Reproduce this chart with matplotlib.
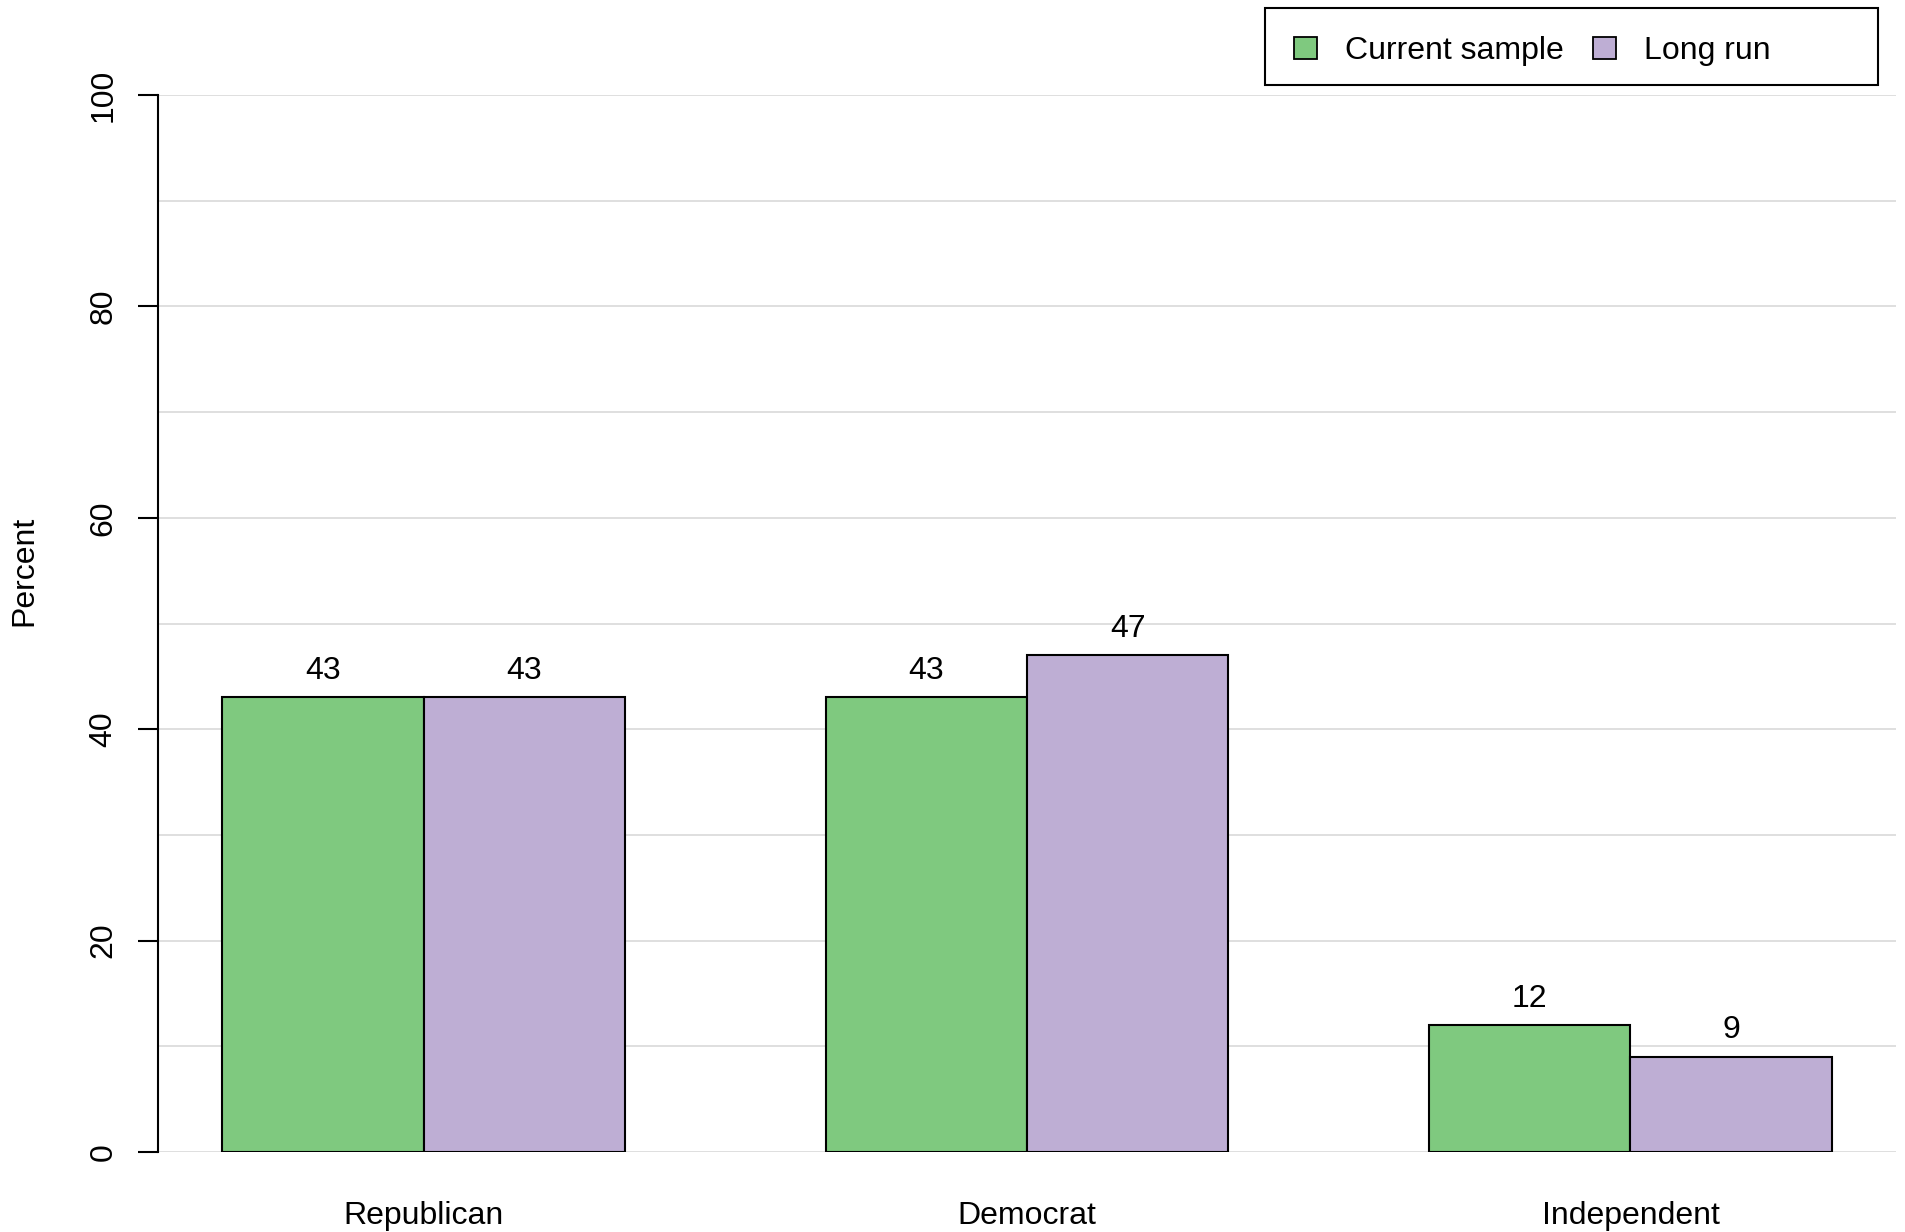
import numpy as np
import matplotlib.pyplot as plt
from matplotlib.patches import Rectangle

categories = ["Republican", "Democrat", "Independent"]
current_sample = [43, 43, 12]
long_run = [43, 47, 9]
series_names = ["Current sample", "Long run"]
colors = ["#7FC97F", "#BEAED4"]

plt.rcParams['font.family'] = ['Liberation Sans', 'DejaVu Sans']
FS = 23

W, H = 1905, 1232
fig = plt.figure(figsize=(W / 100, H / 100), dpi=100)

# axes box in pixels: x 158..1896, y 95..1152
ax = fig.add_axes([158 / W, 1 - 1152 / H, (1896 - 158) / W, (1152 - 95) / H])

# R style beside barplot: width 1, space c(0, 1)
n = len(categories)
group_left = 1 + 3 * np.arange(n)
for j, (vals, col) in enumerate(zip([current_sample, long_run], colors)):
    x = group_left + j
    ax.bar(x, vals, width=1, align='edge', color=col, edgecolor='black',
           linewidth=1.5, zorder=3)
    for xi, v in zip(x, vals):
        ax.annotate(str(v), (xi + 0.5, v), xytext=(0, 19), textcoords='offset points',
                    ha='center', va='center', fontsize=FS, zorder=4)

for g in range(0, 101, 10):
    ax.axhline(g, color='#D9D9D9', linewidth=1.2, zorder=1)

ax.set_xlim(0.68, 9.32)
ax.set_ylim(0, 100)

ax.set_yticks(range(0, 101, 20))
ax.tick_params(axis='y', length=14.4, width=1.5, pad=14, labelsize=FS, labelrotation=90)
for lab in ax.get_yticklabels():
    lab.set_va('center')

ax.set_xticks(group_left + 1)
ax.set_xticklabels(categories)
ax.tick_params(axis='x', length=0, pad=35, labelsize=FS)

for s in ['top', 'right', 'bottom']:
    ax.spines[s].set_visible(False)
ax.spines['left'].set_linewidth(1.5)

fig.text(24 / W, 1 - 571 / H, "Percent", rotation=90, ha='center', va='center', fontsize=FS)

# legend box, R style (top right)
def fx(px):
    return px / W

def fy(py):
    return 1 - py / H

fig.patches.append(Rectangle((fx(1265), fy(85)), fx(1878) - fx(1265), fy(8) - fy(85),
                             transform=fig.transFigure, facecolor='white',
                             edgecolor='black', linewidth=1.5))
for hx, tx, name, col in zip([1294, 1593], [1345, 1644], series_names, colors):
    fig.patches.append(Rectangle((fx(hx), fy(59)), fx(23), 22 / H,
                                 transform=fig.transFigure, facecolor=col,
                                 edgecolor='black', linewidth=1.3))
    fig.text(fx(tx), fy(51), name, ha='left', va='center', fontsize=FS)

fig.savefig("out.png", dpi=100)
